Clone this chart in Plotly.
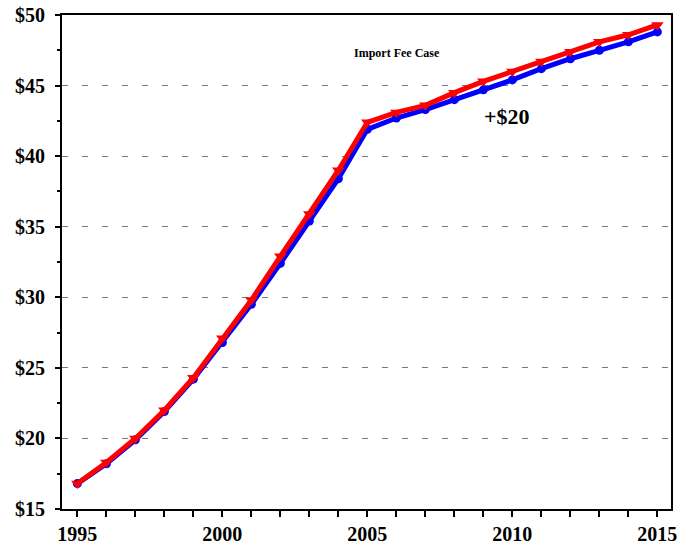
import plotly.graph_objects as go

years = list(range(1995, 2016))
base_case = [16.8, 18.2, 19.9, 21.9, 24.2, 26.8, 29.5, 32.4, 35.4, 38.4, 41.9,
             42.7, 43.3, 44.0, 44.7, 45.4, 46.2, 46.9, 47.5, 48.1, 48.8]
import_fee = [16.8, 18.3, 20.0, 22.0, 24.3, 27.1, 29.8, 32.9, 35.9, 39.0, 42.4,
              43.1, 43.6, 44.5, 45.3, 46.0, 46.7, 47.4, 48.1, 48.6, 49.3]
x_ticks = [1995, 2000, 2005, 2010, 2015]
y_ticks = [15, 20, 25, 30, 35, 40, 45, 50]
y_labels = ["$" + str(v) for v in y_ticks]

font = dict(family="Liberation Serif, Times New Roman, serif", color="black")

fig = go.Figure()
fig.add_trace(go.Scatter(x=years, y=base_case, mode="lines+markers",
                         line=dict(color="#0000ff", width=5),
                         marker=dict(symbol="circle", size=9, color="#0000ff"),
                         showlegend=False))
fig.add_trace(go.Scatter(x=years, y=import_fee, mode="lines+markers",
                         line=dict(color="#ff0000", width=5),
                         marker=dict(symbol="triangle-down", size=11, color="#ff0000"),
                         showlegend=False))

fig.update_layout(
    width=694, height=544,
    margin=dict(l=62, r=23, t=15, b=35),
    paper_bgcolor="white", plot_bgcolor="white",
    font=font,
    xaxis=dict(range=[1994.47, 2015.47], tickmode="array", tickvals=x_ticks,
               ticktext=[f"<b>{v}</b>" for v in x_ticks],
               tickfont=dict(size=20, **font), automargin=False,
               ticklabeloverflow="allow",
               showgrid=False, zeroline=False, showline=True, linecolor="black",
               linewidth=2, mirror=True, ticks="outside", ticklen=6, tickwidth=2,
               tickcolor="black",
               minor=dict(tickmode="linear", dtick=1, ticks="outside", ticklen=6,
                          tickwidth=2, tickcolor="black")),
    yaxis=dict(range=[15, 50], tickmode="array", tickvals=y_ticks,
               ticktext=[f"<b>{t}</b>" for t in y_labels],
               tickfont=dict(size=20, **font), automargin=False,
               ticklabeloverflow="allow",
               ticklabelstandoff=6,
               showgrid=True, gridcolor="#777777", griddash="6px,14px", gridwidth=1,
               zeroline=False, showline=True, linecolor="black",
               linewidth=2, mirror=True, ticks="outside", ticklen=5, tickwidth=2,
               tickcolor="black",
               minor=dict(tickmode="linear", tick0=15, dtick=2.5, ticks="outside",
                          ticklen=3, tickwidth=2, tickcolor="black", showgrid=False)),
    annotations=[
        dict(x=0.55, y=0.923, xref="paper", yref="paper", xanchor="center",
             yanchor="middle", text="<b>Import Fee Case</b>",
             showarrow=False, font=dict(size=12, **font)),
        dict(x=0.731, y=0.794, xref="paper", yref="paper", xanchor="center",
             yanchor="middle", text="<b>+$20</b>",
             showarrow=False, font=dict(size=22, **font)),
    ],
)

fig.write_html("out.html", config={"displayModeBar": False},
               post_script="document.body.style.margin='0';document.body.style.overflow='hidden';")
